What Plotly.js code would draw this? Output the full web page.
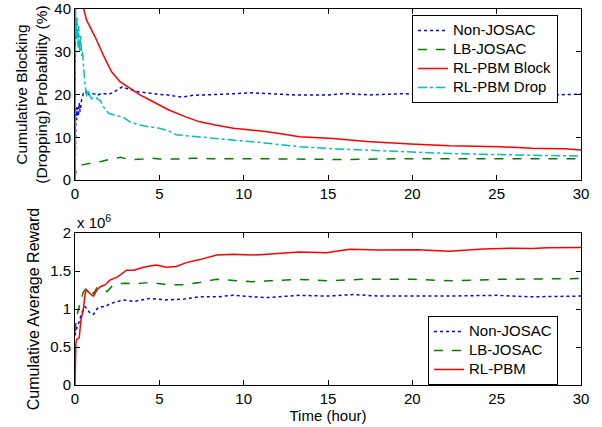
<!DOCTYPE html>
<html>
<head>
<meta charset="utf-8">
<script src="https://cdn.plot.ly/plotly-3.0.1.min.js"></script>
<style>html,body{margin:0;padding:0;background:#fff;}#chart{width:602px;height:427px;}</style>
</head>
<body>
<div id="chart"></div>
<script>
// ---------- Top panel: cumulative blocking / dropping probability (%) ----------
const nonJosacBlockX = [0,0.03,0.06,0.1,0.15,0.2,0.25,0.3,0.4,0.5,0.6,0.7,0.8,1.0,1.3,1.6,2.0,2.4,2.8,3.2,3.8,4.5,5.0,5.5,6.3,7,8,9,10.5,11.5,13,15,16,17.5,19.5,20.5,23,25,27,28.5,30];
const nonJosacBlockY = [0,12,17,14,17,15,18,16,19,20.2,20,21,20,20.3,19.8,20.3,20,20.8,21.8,21.2,20.6,20.3,20.0,19.9,19.4,19.8,19.9,20.1,20.4,20.2,19.9,19.9,20.2,19.9,20.2,19.9,20,20.0,20.0,19.9,20.1];

const lbJosacBlockX = [0,0.03,0.1,0.2,0.5,0.8,1.2,1.6,2.0,2.4,2.7,3.0,3.5,4,4.6,5,6,7,8,10,12,14,16,18,20,25,30];
const lbJosacBlockY = [0,1.5,2.5,3.3,3.6,3.8,4.0,4.4,4.8,5.0,5.3,5.0,4.8,4.9,5.1,4.9,4.9,5.1,5.0,5.0,4.9,4.8,4.8,4.9,5.0,5.0,5.0];

const rlBlockX = [0,0.02,0.2,0.45,0.69,1.19,1.68,2.17,2.67,3.26,3.85,4.64,5.5,6.6,7.4,8.4,9.4,10.4,11.4,12.4,13.3,15.3,17.3,19.9,22.2,25.2,27.1,29,30];
const rlBlockY = [0,55,48,41,37.4,33.5,29.2,25.3,23.0,21.4,19.9,18.3,16.5,14.7,13.6,12.8,12.1,11.7,11.3,10.7,10.1,9.7,9.0,8.4,8.0,7.8,7.4,7.3,7.0];

const rlDropX = [0,0.03,0.08,0.12,0.18,0.22,0.28,0.33,0.4,0.45,0.5,0.6,0.7,0.8,0.9,1.0,1.2,1.3,1.5,1.7,2.0,2.5,2.9,3.3,3.8,4.3,5,5.5,6,6.5,7.4,8.5,9.4,10.5,11.4,12.5,13.3,15.3,18.3,20,22.2,24.2,27.1,30];
const rlDropY = [0,40,33,38,31,36,30,34,29,30,27,22,19.5,21,19.5,19,20.3,19,18.6,17,15.6,15,14.6,13.5,12.9,12.5,12.1,11.6,10.6,10.4,10.1,9.7,9.3,8.9,8.6,8.1,7.8,7.3,6.8,6.6,6.2,6.0,5.8,5.6];

// ---------- Bottom panel: cumulative average reward (x 10^6) ----------
const nonJosacRewardX = [0,0.1,0.2,0.4,0.59,0.75,0.89,1.1,1.3,1.48,1.8,2.07,2.86,3.5,4.45,5.43,6.4,7.4,8.4,9.4,10.5,11.4,13.3,15,16.5,18,20,22,25,27,30];
const nonJosacRewardY = [0.65,0.75,0.8,0.95,1.03,1.0,0.94,0.93,1.0,1.03,1.03,1.07,1.12,1.1,1.14,1.12,1.13,1.16,1.16,1.18,1.16,1.15,1.18,1.17,1.19,1.17,1.17,1.17,1.18,1.16,1.17];

const lbJosacRewardX = [0,0.1,0.2,0.35,0.49,0.65,0.8,1.1,1.3,1.5,1.9,2.2,2.47,3.0,3.46,4.45,5.43,6.4,7.4,8.4,9.4,10.5,11.4,13.3,15,17,20,22.5,25,30];
const lbJosacRewardY = [0.7,0.9,0.99,1.1,1.22,1.27,1.28,1.2,1.28,1.26,1.23,1.3,1.33,1.34,1.33,1.35,1.32,1.32,1.35,1.39,1.38,1.36,1.37,1.39,1.37,1.39,1.39,1.37,1.39,1.40];

const rlPbmRewardX = [0,0.05,0.1,0.25,0.35,0.49,0.6,0.69,0.9,1.09,1.3,1.48,1.8,2.07,2.5,3.06,3.5,4.05,4.8,5.43,6.0,6.6,7.4,8.4,9.4,10.5,11.4,12.5,13.3,14.9,16.3,18,20.3,22.2,24.2,26,27.1,28,30];
const rlPbmRewardY = [0,0.55,0.6,0.62,0.85,0.99,1.2,1.25,1.2,1.17,1.25,1.29,1.32,1.38,1.42,1.51,1.51,1.55,1.58,1.55,1.56,1.61,1.65,1.71,1.72,1.71,1.72,1.74,1.75,1.74,1.785,1.775,1.78,1.76,1.79,1.80,1.795,1.805,1.81];

const topNames = ['Non-JOSAC','LB-JOSAC','RL-PBM Block','RL-PBM Drop'];
const bottomNames = ['Non-JOSAC','LB-JOSAC','RL-PBM'];
const xTicks = [0,5,10,15,20,25,30];
const topYTicks = [0,10,20,30,40];
const bottomYTicks = [0,0.5,1,1.5,2];

const BLUE='#0000ff', GREEN='#008000', RED='#ff0000', CYAN='#00bfbf';
const FONT = 'Liberation Sans, Arial, sans-serif';
const big = s => '<span style="font-size:15px">' + s + '</span>';

const traces = [
  {x:nonJosacBlockX,y:nonJosacBlockY,name:big(topNames[0]),mode:'lines',line:{color:BLUE,dash:'dot',width:1.5},xaxis:'x',yaxis:'y',legend:'legend'},
  {x:lbJosacBlockX,y:lbJosacBlockY,name:big(topNames[1]),mode:'lines',line:{color:GREEN,dash:'dash',width:1.5},xaxis:'x',yaxis:'y',legend:'legend'},
  {x:rlBlockX,y:rlBlockY,name:big(topNames[2]),mode:'lines',line:{color:RED,width:1.5},xaxis:'x',yaxis:'y',legend:'legend'},
  {x:rlDropX,y:rlDropY,name:big(topNames[3]),mode:'lines',line:{color:CYAN,dash:'dashdot',width:1.5},xaxis:'x',yaxis:'y',legend:'legend'},
  {x:nonJosacRewardX,y:nonJosacRewardY,name:big(bottomNames[0]),mode:'lines',line:{color:BLUE,dash:'dot',width:1.5},xaxis:'x2',yaxis:'y2',legend:'legend2'},
  {x:lbJosacRewardX,y:lbJosacRewardY,name:big(bottomNames[1]),mode:'lines',line:{color:GREEN,dash:'dash',width:1.5},xaxis:'x2',yaxis:'y2',legend:'legend2'},
  {x:rlPbmRewardX,y:rlPbmRewardY,name:big(bottomNames[2]),mode:'lines',line:{color:RED,width:1.5},xaxis:'x2',yaxis:'y2',legend:'legend2'}
];

const axisCommon = {showgrid:false,zeroline:false,showline:true,linecolor:'#000',linewidth:1,mirror:'ticks',ticks:'inside',ticklen:5,tickcolor:'#000',tickfont:{family:FONT,size:15,color:'#000'}};

const plotTop = 9, plotBottom = 385, H = 427;
const span = plotBottom - plotTop;
const legendFont = {family:FONT,size:12,color:'#000'};
const layout = {
  width:602,height:H,
  margin:{l:75,r:21,t:plotTop,b:H-plotBottom},
  paper_bgcolor:'#fff',plot_bgcolor:'#fff',
  font:{family:FONT,size:15,color:'#000'},
  xaxis:Object.assign({},axisCommon,{domain:[0,1],range:[0,30],tickvals:xTicks,anchor:'y'}),
  yaxis:Object.assign({},axisCommon,{domain:[(plotBottom-180)/span,1],range:[0,40],tickvals:topYTicks,anchor:'x',
    title:{text:'Cumulative Blocking<br>(Dropping) Probability (%)',font:{family:FONT,size:15.5,color:'#000'},standoff:2}}),
  xaxis2:Object.assign({},axisCommon,{domain:[0,1],range:[0,30],tickvals:xTicks,anchor:'y2',
    title:{text:'Time (hour)',font:{family:FONT,size:15,color:'#000'},standoff:4}}),
  yaxis2:Object.assign({},axisCommon,{domain:[0,(plotBottom-233)/span],range:[0,2],tickvals:bottomYTicks,anchor:'x2',
    title:{text:'Cumulative Average Reward',font:{family:FONT,size:16,color:'#000'},standoff:6}}),
  legend:{x:(412-75)/506,y:(plotBottom-15)/span,xanchor:'left',yanchor:'top',bgcolor:'#fff',bordercolor:'#000',borderwidth:1,font:legendFont,tracegroupgap:0},
  legend2:{x:(428-75)/506,y:(plotBottom-316)/span,xanchor:'left',yanchor:'top',bgcolor:'#fff',bordercolor:'#000',borderwidth:1,font:legendFont,tracegroupgap:0},
  annotations:[{xref:'paper',yref:'paper',x:0,y:(plotBottom-222)/span,xanchor:'left',yanchor:'middle',showarrow:false,
    text:'x 10<sup>6</sup>',font:{family:FONT,size:15,color:'#000'}}],
  showlegend:true
};

Plotly.newPlot('chart',traces,layout,{displayModeBar:false,staticPlot:true});
</script>
</body>
</html>
